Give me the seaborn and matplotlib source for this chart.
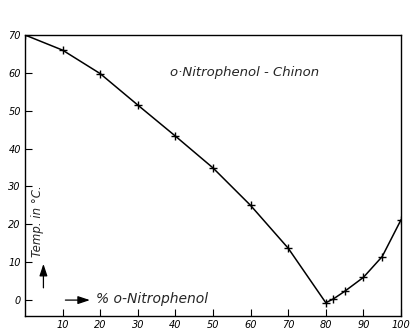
import matplotlib
matplotlib.use("Agg")
import matplotlib.pyplot as plt
import seaborn as sns
import pandas as pd

# Freezing-point curve of the o-nitrophenol / quinone system
pct_nitrophenol = [0, 10, 20, 30, 40, 50, 60, 70, 80, 82, 85, 90, 95, 100]
temperature_c = [70, 66, 59.8, 51.5, 43.3, 34.9, 25, 13.7, -0.7, 0.3, 2.3, 6, 11.5, 21.2]
x_ticks = [10, 20, 30, 40, 50, 60, 70, 80, 90, 100]
y_ticks = [0, 10, 20, 30, 40, 50, 60, 70]

df = pd.DataFrame({"pct": pct_nitrophenol, "temp": temperature_c})

sns.set_theme(style="white")
plt.rcParams["font.family"] = ["DejaVu Sans"]

fig = plt.figure(figsize=(4.15, 3.35), dpi=100)
ax = fig.add_axes([25 / 415, 1 - 316 / 335, 376 / 415, 281 / 335])

sns.lineplot(data=df, x="pct", y="temp", ax=ax, color="black", linewidth=1.1,
             marker="+", markersize=6, markeredgewidth=1.0, markeredgecolor="black",
             sort=False)

ax.set_xlim(0, 100)
ax.set_ylim(-4.2, 70)
ax.set_xticks(x_ticks)
ax.set_yticks(y_ticks)
ax.set_xticklabels([str(v) for v in x_ticks], fontsize=7, style="italic")
ax.set_yticklabels([str(v) for v in y_ticks], fontsize=7, style="italic")
ax.tick_params(axis="both", direction="in", length=5, width=0.8, colors="black",
               pad=3, bottom=True, left=True)
ax.set_xlabel("")
ax.set_ylabel("")
for s in ax.spines.values():
    s.set_color("black")
    s.set_linewidth(1.0)

ax.text(58.5, 60, "o·Nitrophenol - Chinon", fontsize=9.5, style="italic",
        ha="center", va="center")
ax.text(3.2, 20.8, "Temp. in °C.", fontsize=8.5, style="italic", rotation=90,
        ha="center", va="center")
ax.annotate("", xy=(4.9, 10.3), xytext=(4.9, 2.5),
            arrowprops=dict(arrowstyle="-|>,head_length=0.6,head_width=0.2",
                            color="black", lw=0.9))
ax.annotate("", xy=(18, 0.0), xytext=(10, 0.0),
            arrowprops=dict(arrowstyle="-|>,head_length=0.6,head_width=0.2",
                            color="black", lw=0.9))
ax.text(18.8, 0.4, "% o-Nitrophenol", fontsize=10, style="italic",
        ha="left", va="center")

fig.savefig("out.png", dpi=100)
